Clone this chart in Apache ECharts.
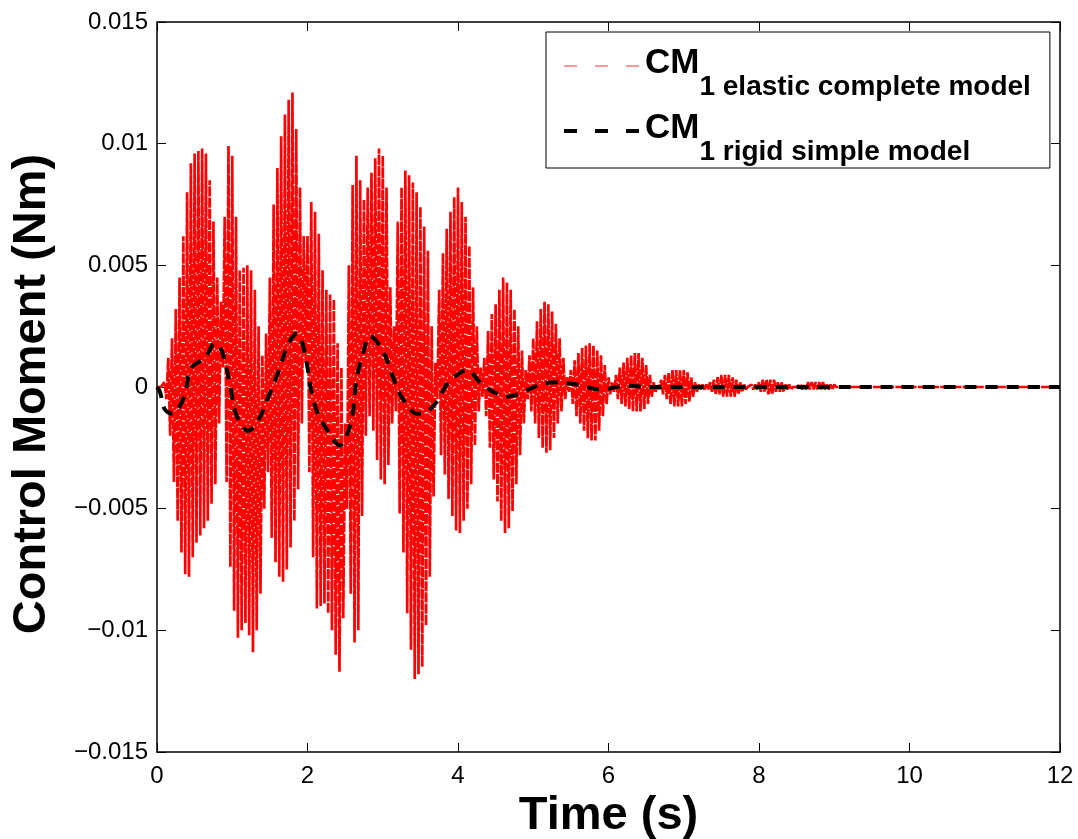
<!DOCTYPE html>
<html><head><meta charset="utf-8">
<script src="https://cdn.jsdelivr.net/npm/echarts@6/dist/echarts.min.js"></script>
<style>html,body{margin:0;padding:0;background:#fff;overflow:hidden}#chart{width:1078px;height:839px}</style>
</head><body><div id="chart"></div>
<script>
// ---- data ----
const seriesNames = ['CM1 elastic complete model', 'CM1 rigid simple model'];
const xTicks = [0, 2, 4, 6, 8, 10, 12];
const yTicks = [-0.015, -0.01, -0.005, 0, 0.005, 0.01, 0.015];

// Elastic model: high-frequency oscillation, peaks (upper) and troughs (lower)
// read every 0.05 s from t = 0 s to t = 9.00 s; zero afterwards up to 12 s.
const elasticStep = 0.05;
const elasticUpper = [
 0,0,0.0002,0.0012,0.0020,0.0032,0.0045,0.0062,0.0080,0.0092,
 0.0096,0.0097,0.0098,0.0096,0.0085,0.0068,0.0045,0.0035,0.0070,0.0099,
 0.0095,0.0070,0.0048,0.0049,0.0050,0.0048,0.0040,0.0025,0.0013,0.0022,
 0.0045,0.0075,0.0090,0.0103,0.0112,0.0118,0.0121,0.0106,0.0082,0.0062,
 0.0062,0.0076,0.0072,0.0063,0.0048,0.0040,0.0038,0.0036,0.0018,0.0008,
 -0.0015,0.0050,0.0083,0.0095,0.0085,0.0077,0.0082,0.0088,0.0094,0.0098,
 0.0095,0.0082,0.0041,0.0025,0.0068,0.0082,0.0089,0.0087,0.0084,0.0080,
 0.0074,0.0066,0.0056,0.0025,0.0010,0.0040,0.0055,0.0065,0.0072,0.0078,
 0.0082,0.0076,0.0070,0.0058,0.0041,0.0025,0.0008,0.0012,0.0023,0.0030,
 0.0034,0.0040,0.0045,0.0043,0.0040,0.0032,0.0025,0.0015,0.0007,0.0013,
 0.0020,0.0027,0.0032,0.0035,0.0034,0.0031,0.0026,0.0020,0.0012,0.0004,
 0.0007,0.0011,0.0014,0.0016,0.0017,0.0018,0.0017,0.0015,0.0013,0.0009,
 0.0004,0.0002,0.0005,0.0008,0.0010,0.0012,0.0013,0.0014,0.0014,0.0012,
 0.0009,0.0005,0.0002,0.0001,0.0003,0.0005,0.0006,0.0007,0.0007,0.0007,
 0.0007,0.0006,0.0004,0.0002,0.0001,0.0001,0.0001,0.0002,0.0003,0.0004,
 0.0005,0.0005,0.0005,0.0004,0.0003,0.0002,0.0001,0,0.0001,0.0001,
 0.0002,0.0003,0.0003,0.0003,0.0003,0.0002,0.0002,0.0001,0.0001,0,
 0,0.0001,0.0001,0.0002,0.0002,0.0002,0.0002,0.0002,0.0001,0.0001,
 0.0001
];
const elasticLower = [
 0,0,-0.0005,-0.0020,-0.0039,-0.0055,-0.0068,-0.0077,-0.0078,-0.0070,
 -0.0064,-0.0061,-0.0058,-0.0055,-0.0048,-0.0040,-0.0015,0.0008,-0.0039,-0.0074,
 -0.0092,-0.0103,-0.0100,-0.0097,-0.0102,-0.0109,-0.0100,-0.0085,-0.0050,-0.0035,
 -0.0062,-0.0072,-0.0078,-0.0080,-0.0075,-0.0066,-0.0055,-0.0042,-0.0015,0.0010,
 -0.0035,-0.0070,-0.0091,-0.0090,-0.0089,-0.0093,-0.0100,-0.0110,-0.0117,-0.0095,
 -0.0050,-0.0085,-0.0105,-0.0100,-0.0053,-0.0020,-0.0012,-0.0018,-0.0030,-0.0038,
 -0.0040,-0.0032,-0.0015,-0.0010,-0.0052,-0.0068,-0.0093,-0.0108,-0.0120,-0.0118,
 -0.0115,-0.0098,-0.0078,-0.0045,-0.0005,-0.0028,-0.0036,-0.0046,-0.0053,-0.0059,
 -0.0060,-0.0055,-0.0050,-0.0040,-0.0024,-0.0010,-0.0004,-0.0012,-0.0025,-0.0038,
 -0.0047,-0.0055,-0.0060,-0.0058,-0.0051,-0.0040,-0.0028,-0.0015,-0.0005,-0.0010,
 -0.0015,-0.0021,-0.0025,-0.0027,-0.0026,-0.0021,-0.0015,-0.0010,-0.0005,-0.0002,
 -0.0007,-0.0012,-0.0015,-0.0018,-0.0021,-0.0022,-0.0022,-0.0018,-0.0012,-0.0007,
 -0.0003,-0.0002,-0.0005,-0.0007,-0.0008,-0.0009,-0.0010,-0.0010,-0.0010,-0.0009,
 -0.0007,-0.0004,-0.0002,-0.0001,-0.0003,-0.0005,-0.0007,-0.0008,-0.0008,-0.0008,
 -0.0007,-0.0006,-0.0004,-0.0002,-0.0001,-0.0001,-0.0001,-0.0002,-0.0003,-0.0003,
 -0.0004,-0.0004,-0.0004,-0.0004,-0.0003,-0.0002,-0.0001,0,-0.0001,-0.0001,
 -0.0002,-0.0002,-0.0003,-0.0003,-0.0002,-0.0002,-0.0002,-0.0001,-0.0001,0,
 0,-0.0001,-0.0001,-0.0001,-0.0001,-0.0001,-0.0001,-0.0001,-0.0001,-0.0001,
 0
];
const elasticTailTime = [9.05, 12];
const elasticTailValue = [0, 0];

// Rigid model (smooth dashed black curve)
const rigidTime = [0,0.04,0.1,0.2,0.3,0.37,0.46,0.64,0.77,0.86,
 0.97,1.04,1.13,1.21,1.34,1.48,1.61,1.75,1.86,1.95,
 2.06,2.14,2.27,2.43,2.52,2.6,2.65,2.74,2.83,3.0,
 3.1,3.23,3.32,3.45,3.59,3.72,3.85,3.99,4.12,4.29,
 4.47,4.65,4.87,5.09,5.31,5.58,5.89,6.24,6.6,7.0,
 8,9,10,11,12];
const rigidValue = [0,-0.0002,-0.0009,-0.0011,-0.0008,-0.0003,0.0008,0.0012,0.0018,0.0015,
 0.0001,-0.001,-0.0016,-0.0018,-0.0014,-0.0004,0.0006,0.0018,0.0022,0.0016,
 -0.0003,-0.0011,-0.0018,-0.0024,-0.002,-0.0011,0.0003,0.0014,0.0021,0.0015,
 0.0007,-0.0003,-0.0007,-0.0011,-0.001,-0.0006,0.0001,0.0005,0.0007,0.0002,
 -0.0002,-0.0004,-0.0002,0.0001,0.0002,0.0001,-0.0001,0.00005,0,0,
 0,0,0,0,0];

// ---- build series data ----
const elasticData = [];
for (let i = 0; i < elasticUpper.length; i++) {
  const t = i * elasticStep;
  elasticData.push([t, elasticUpper[i]]);
  elasticData.push([t + elasticStep / 2, elasticLower[i]]);
}
for (let i = 0; i < elasticTailTime.length; i++) elasticData.push([elasticTailTime[i], elasticTailValue[i]]);
const rigidData = rigidTime.map((t, i) => [t, rigidValue[i]]);

const FONT = '"Liberation Sans", Arial, Helvetica, sans-serif';
const fmtY = v => {
  const r = Number(v.toFixed(4));
  if (r === 0) return '0';
  return (r < 0 ? '\u2212' : '') + String(Math.abs(r));
};
const axisCommon = {
  axisLine: { show: true, onZero: false, lineStyle: { color: '#000', width: 1.5 } },
  axisTick: { show: true, inside: true, length: 9, lineStyle: { color: '#000', width: 1 } },
  splitLine: { show: false }
};
const noSymbol = { color: 'rgba(0,0,0,0)', borderColor: 'rgba(0,0,0,0)', borderWidth: 0, opacity: 0 };

const chart = echarts.init(document.getElementById('chart'), null, { renderer: 'canvas' });
chart.setOption({
  animation: false,
  backgroundColor: '#fff',
  grid: { left: 157, right: 18, top: 22, bottom: 87, containLabel: false, outerBoundsMode: 'none' },
  xAxis: [
    Object.assign({}, axisCommon, {
      type: 'value', position: 'bottom', min: xTicks[0], max: xTicks[xTicks.length - 1], interval: 2,
      axisLabel: { fontFamily: FONT, fontSize: 24, color: '#000', margin: 12 },
      name: 'Time (s)', nameLocation: 'middle', nameGap: 36,
      nameTextStyle: { fontFamily: FONT, fontSize: 47, fontWeight: 'bold', color: '#000' }
    }),
    Object.assign({}, axisCommon, {
      type: 'value', position: 'top', min: xTicks[0], max: xTicks[xTicks.length - 1], interval: 2,
      axisLabel: { show: false }
    })
  ],
  yAxis: [
    Object.assign({}, axisCommon, {
      type: 'value', position: 'left', min: yTicks[0], max: yTicks[yTicks.length - 1], interval: 0.005,
      axisLabel: { fontFamily: FONT, fontSize: 24, color: '#000', margin: 9, formatter: fmtY },
      name: 'Control Moment (Nm)', nameLocation: 'middle', nameGap: 101,
      nameTextStyle: { fontFamily: FONT, fontSize: 47, fontWeight: 'bold', color: '#000', padding: [0, 14, 0, 0] }
    }),
    Object.assign({}, axisCommon, {
      type: 'value', position: 'right', min: yTicks[0], max: yTicks[yTicks.length - 1], interval: 0.005,
      axisLabel: { show: false }
    })
  ],
  legend: {
    orient: 'vertical', left: 546, top: 32,
    padding: [14, 19, 2, 16],
    itemWidth: 76, itemHeight: 14, itemGap: 10, itemTextGap: 9,
    backgroundColor: '#fff', borderColor: '#000', borderWidth: 1, borderRadius: 0,
    data: [
      { name: seriesNames[0], itemStyle: noSymbol, lineStyle: { type: [13, 18], width: 1, color: '#ff3030' } },
      { name: seriesNames[1], itemStyle: noSymbol, lineStyle: { type: [13, 18], width: 4, color: '#000' } }
    ],
    formatter: name => '{cm|CM}{sub|' + name.slice(2) + '}',
    textStyle: {
      rich: {
        cm: { fontFamily: FONT, fontSize: 35, fontWeight: 'bold', color: '#000', lineHeight: 40, verticalAlign: 'top', padding: [0, 0, 0, 0] },
        sub: { fontFamily: FONT, fontSize: 28, fontWeight: 'bold', color: '#000', lineHeight: 32, verticalAlign: 'top', padding: [27, 0, 0, 0] }
      }
    }
  },
  series: [
    {
      name: seriesNames[0], type: 'line', xAxisIndex: 0, yAxisIndex: 0,
      data: elasticData, symbol: 'none', showSymbol: false, silent: true, z: 2,
      itemStyle: { color: '#ff0000' },
      lineStyle: { color: '#ff0000', width: 2.7, type: [10, 1.2] }
    },
    {
      name: seriesNames[1], type: 'line', xAxisIndex: 0, yAxisIndex: 0,
      data: rigidData, symbol: 'none', showSymbol: false, silent: true, smooth: 0.35, z: 3,
      itemStyle: { color: '#000' },
      lineStyle: { color: '#000', width: 4, type: [12, 9], cap: 'butt' }
    }
  ]
});
</script>
</body></html>
